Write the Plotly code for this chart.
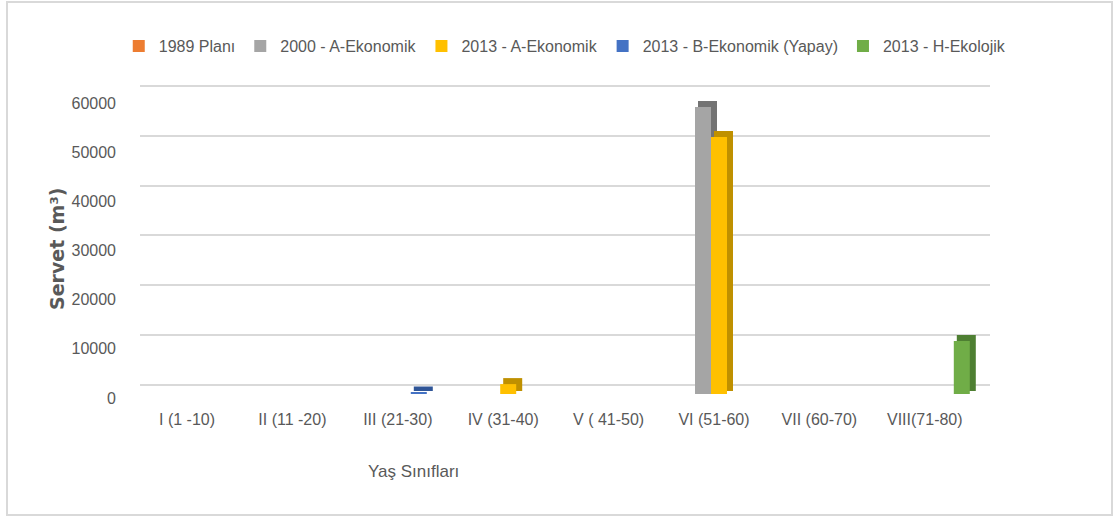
import plotly.graph_objects as go

# ---------------- data ----------------
categories = ["I (1 -10)", "II (11 -20)", "III (21-30)", "IV (31-40)", "V ( 41-50)",
              "VI (51-60)", "VII (60-70)", "VIII(71-80)"]
plan_1989 = [0, 0, 0, 0, 0, 0, 0, 0]
a_ekonomik_2000 = [0, 0, 0, 0, 0, 58000, 0, 0]
a_ekonomik_2013 = [0, 0, 0, 2000, 0, 51900, 0, 0]
b_ekonomik_2013 = [0, 0, 300, 0, 0, 0, 0, 0]
h_ekolojik_2013 = [0, 0, 0, 0, 0, 0, 0, 10700]
series_names = ["1989 Planı", "2000 - A-Ekonomik", "2013 - A-Ekonomik",
                "2013 - B-Ekonomik (Yapay)", "2013 - H-Ekolojik"]
y_ticks = [0, 10000, 20000, 30000, 40000, 50000, 60000]
y_tick_labels = ["0", "10000", "20000", "30000", "40000", "50000", "60000"]

series_values = [plan_1989, a_ekonomik_2000, a_ekonomik_2013, b_ekonomik_2013, h_ekolojik_2013]
front_colors = ["#ED7D31", "#A5A5A5", "#FFC000", "#4472C4", "#70AD47"]
side_colors = ["#B65A1E", "#737373", "#BF9000", "#2F5597", "#4E7F32"]

# ---------------- geometry (pixels -> axis units) ----------------
W, H = 1115, 519
PL, PR, PT, PB = 140, 990, 84, 400          # plot area in pixels
CAT_PX = 105.4                               # pixels per category
CAT0_PX = 187                                # pixel of first category
x_range = [(PL - CAT0_PX) / CAT_PX, (PR - CAT0_PX) / CAT_PX]

# bars axis: 0 at 394 px, 49.5 px per 10000
U_BAR = 10000 / 49.5
y_bar_range = [-(PB - 394) * U_BAR, (394 - PT) * U_BAR]
# grid (back wall) axis: 0 at 384.5 px, 60000 at 86 px
U_GRID = 60000 / (384.5 - 86)
y_grid_range = [-(PB - 384.5) * U_GRID, 60000 + (86 - PT) * U_GRID]
# label axis: 0 at 398 px, 60000 at 103 px
U_LAB = 60000 / (398 - 103)
y_lab_range = [-(PB - 398) * U_LAB, 60000 + (103 - PT) * U_LAB]

SLOT_PX = 16
SIDE_PX = 6
slot_w = SLOT_PX / CAT_PX

fig = go.Figure()

# side / top faces (drawn first, under front faces)
for k, vals in enumerate(series_values):
    start = (-35 + SLOT_PX * k) / CAT_PX
    ys = [v + 3 * U_BAR if v > 0 else None for v in vals]
    fig.add_trace(go.Bar(
        x=categories, y=ys, base=3 * U_BAR,
        offset=start + 3 / CAT_PX, width=(SLOT_PX + SIDE_PX - 3) / CAT_PX,
        marker=dict(color=side_colors[k], line=dict(width=0)),
        showlegend=False, hoverinfo="skip", yaxis="y"))

# front faces
for k, vals in enumerate(series_values):
    start = (-35 + SLOT_PX * k) / CAT_PX
    fig.add_trace(go.Bar(
        x=categories, y=vals, name=series_names[k],
        offset=start, width=slot_w,
        marker=dict(color=front_colors[k], line=dict(width=0)),
        yaxis="y"))

# invisible carriers for the grid and label axes
fig.add_trace(go.Scatter(x=categories, y=a_ekonomik_2000, yaxis="y2", mode="markers",
                         marker=dict(opacity=0), showlegend=False, hoverinfo="skip"))
fig.add_trace(go.Scatter(x=categories, y=a_ekonomik_2000, yaxis="y3", mode="markers",
                         marker=dict(opacity=0), showlegend=False, hoverinfo="skip"))

FONT = "Liberation Sans, Arial, sans-serif"
GREY = "#595959"

fig.update_layout(
    width=W, height=H,
    margin=dict(l=PL, r=W - PR, t=PT, b=H - PB, pad=0, autoexpand=False),
    paper_bgcolor="white", plot_bgcolor="rgba(0,0,0,0)",
    barmode="overlay",
    font=dict(family=FONT, color=GREY, size=16),
    xaxis=dict(type="category", range=x_range, showgrid=False, zeroline=False,
               showline=False, ticks="", tickfont=dict(family=FONT, size=16, color=GREY),
               ticklabelstandoff=8),
    yaxis=dict(range=y_bar_range, showgrid=False, zeroline=False, showline=False,
               showticklabels=False, ticks=""),
    yaxis2=dict(range=y_grid_range, overlaying="y", anchor="x", side="left",
                tickvals=y_ticks, showgrid=True, gridcolor="#D9D9D9", gridwidth=2,
                zeroline=False, showline=False, showticklabels=False, ticks=""),
    yaxis3=dict(range=y_lab_range, overlaying="y", anchor="x", side="left",
                tickvals=y_ticks, ticktext=y_tick_labels, showgrid=False, zeroline=False,
                showline=False, ticks="", tickfont=dict(family=FONT, size=16, color=GREY),
                ticklabelstandoff=23),
    legend=dict(orientation="h", x=-0.025, xanchor="left", y=(PB - 46) / (PB - PT),
                yanchor="middle", font=dict(family=FONT, size=16, color=GREY),
                bgcolor="rgba(0,0,0,0)", itemwidth=30, traceorder="normal"),
    showlegend=True,
)

pw, ph = PR - PL, PB - PT
fig.add_annotation(text="Yaş Sınıfları", xref="paper", yref="paper",
                   x=(413 - PL) / pw, y=(PB - 472) / ph, xanchor="center", yanchor="middle",
                   showarrow=False, font=dict(family=FONT, size=17, color=GREY))
fig.add_annotation(text="Servet (m³)", xref="paper", yref="paper",
                   x=(57 - PL) / pw, y=(PB - 249) / ph, xanchor="center", yanchor="middle",
                   textangle=-90, showarrow=False,
                   font=dict(family="DejaVu Sans", size=19, color=GREY, weight="bold"))
fig.add_shape(type="rect", xref="paper", yref="paper",
              x0=(7 - PL) / pw, x1=(1112 - PL) / pw, y0=(PB - 515) / ph, y1=(PB - 2) / ph,
              line=dict(color="#D9D9D9", width=2), fillcolor="rgba(0,0,0,0)", layer="below")

fig.write_html("out.html",
               config={"displayModeBar": False},
               post_script="document.body.style.margin='0';document.body.style.overflow='hidden';")
